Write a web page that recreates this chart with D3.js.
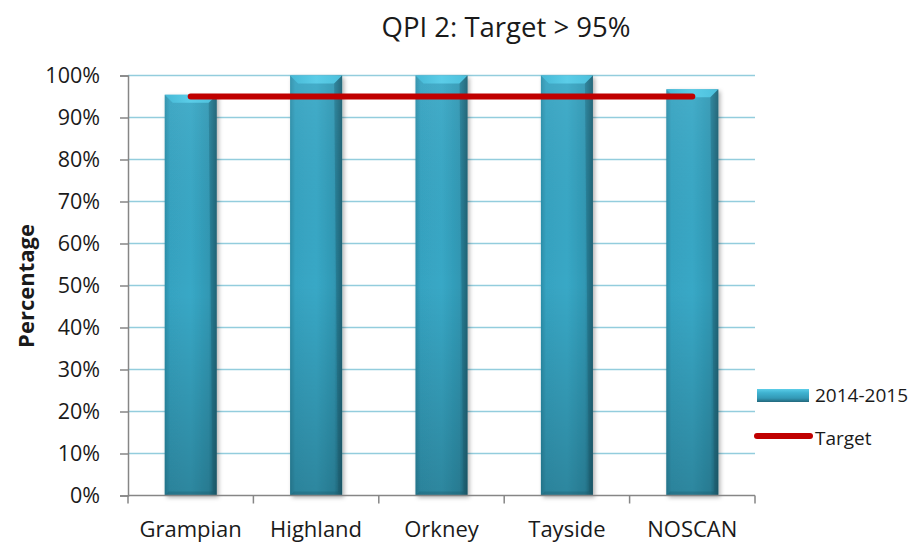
<!DOCTYPE html>
<html>
<head>
<meta charset="utf-8">
<script src="https://cdn.jsdelivr.net/npm/d3@7"></script>
<style>
  html, body { margin: 0; padding: 0; background: #ffffff; }
  svg { display: block; font-family: "Open Sans", "Liberation Sans", sans-serif; }
</style>
</head>
<body>
<svg id="chart" width="913" height="542"></svg>
<script>
// QPI 2 results by region, 2014-2015
const categories = ["Grampian", "Highland", "Orkney", "Tayside", "NOSCAN"];
const values2014 = [95.4, 100, 100, 100, 96.7];
const targetValues = [95, 95, 95, 95, 95];
const yTicks = [0, 10, 20, 30, 40, 50, 60, 70, 80, 90, 100];
const titleText = "QPI 2: Target > 95%";
const seriesNames = ["2014-2015", "Target"];
const yTitle = "Percentage";

const svg = d3.select("#chart");
const plotLeft = 128, plotRight = 755, plotTop = 75.5, plotBottom = 495.5;

const x = d3.scaleBand().domain(categories).range([plotLeft, plotRight])
  .paddingInner(0.585).paddingOuter(0.2925);
const y = d3.scaleLinear().domain([0, 100]).range([plotBottom, plotTop]);

const defs = svg.append("defs");
const g1 = defs.append("linearGradient").attr("id", "barH").attr("x1", 0).attr("x2", 1).attr("y1", 0).attr("y2", 0);
[[0, "#2b8ea9"], [0.1, "#36a3c1"], [0.5, "#38a8c6"], [0.85, "#3098b4"], [1, "#22687c"]]
  .forEach(([o, c]) => g1.append("stop").attr("offset", o).attr("stop-color", c));
const g2 = defs.append("linearGradient").attr("id", "barV").attr("x1", 0).attr("x2", 0).attr("y1", 0).attr("y2", 1);
[[0, "#ffffff", 0.06], [0.5, "#000000", 0.0], [1, "#000000", 0.2]]
  .forEach(([o, c, a]) => g2.append("stop").attr("offset", o).attr("stop-color", c).attr("stop-opacity", a));
const g3 = defs.append("linearGradient").attr("id", "bevel").attr("x1", 0).attr("x2", 1).attr("y1", 0).attr("y2", 0);
[[0, "#46b9d6"], [0.5, "#5bcde8"], [1, "#4cc0dc"]]
  .forEach(([o, c]) => g3.append("stop").attr("offset", o).attr("stop-color", c));
const g4 = defs.append("linearGradient").attr("id", "swatch").attr("x1", 0).attr("x2", 0).attr("y1", 0).attr("y2", 1);
[[0, "#5bcde8"], [0.3, "#3fb2d0"], [0.7, "#3399b6"], [1, "#22687c"]]
  .forEach(([o, c]) => g4.append("stop").attr("offset", o).attr("stop-color", c));
const sh = defs.append("filter").attr("id", "shadow").attr("x", "-20%").attr("y", "-10%").attr("width", "150%").attr("height", "130%");
sh.append("feDropShadow").attr("dx", 2).attr("dy", 2).attr("stdDeviation", 2)
  .attr("flood-color", "#000").attr("flood-opacity", 0.3);

// gridlines
svg.append("g").selectAll("line").data(yTicks.filter(d => d > 0)).join("line")
  .attr("x1", plotLeft).attr("x2", plotRight)
  .attr("y1", d => y(d)).attr("y2", d => y(d))
  .attr("stroke", "#93cddd").attr("stroke-width", 1.5);

// y axis
const yAxis = d3.axisLeft(y).tickValues(yTicks).tickFormat(d => d + "%").tickSize(8).tickPadding(20);
const ya = svg.append("g").attr("transform", `translate(${plotLeft},0)`).call(yAxis);
ya.select(".domain").attr("stroke", "#868686").attr("stroke-width", 1.5);
ya.selectAll(".tick line").attr("stroke", "#868686").attr("stroke-width", 1.5);
ya.selectAll(".tick text").attr("font-size", 21.5).attr("fill", "#1a1a1a")
  .attr("font-family", "'Open Sans', sans-serif");

// bars
const bars = svg.append("g").selectAll("g").data(categories).join("g");
bars.each(function (c, i) {
  const gx = d3.select(this);
  const bx = x(c), bw = x.bandwidth(), by = y(values2014[i]), bh = y(0) - y(values2014[i]);
  const b = 8;
  gx.append("rect").attr("x", bx).attr("y", by).attr("width", bw).attr("height", bh)
    .attr("fill", "url(#barH)").attr("filter", "url(#shadow)");
  gx.append("rect").attr("x", bx).attr("y", by).attr("width", bw).attr("height", bh)
    .attr("fill", "url(#barV)");
  gx.append("path")
    .attr("d", `M${bx},${by} L${bx + bw},${by} L${bx + bw - b},${by + b} L${bx + b},${by + b} Z`)
    .attr("fill", "url(#bevel)");
  gx.append("path")
    .attr("d", `M${bx + bw},${by} L${bx + bw},${by + bh} L${bx + bw - 4},${by + bh - 4} L${bx + bw - b},${by + b} Z`)
    .attr("fill", "#1b5566").attr("opacity", 0.3);
  gx.append("path")
    .attr("d", `M${bx},${by + bh} L${bx + bw},${by + bh} L${bx + bw - 4},${by + bh - 4} L${bx + 4},${by + bh - 4} Z`)
    .attr("fill", "#1b5566").attr("opacity", 0.3);
});

// x axis
const xa = svg.append("g").attr("transform", `translate(0,${plotBottom})`);
xa.append("line").attr("x1", plotLeft).attr("x2", plotRight).attr("stroke", "#868686").attr("stroke-width", 1.5);
const bounds = d3.range(categories.length + 1).map(i => plotLeft + i * x.step());
xa.selectAll("line.tk").data(bounds).join("line").attr("class", "tk")
  .attr("x1", d => d).attr("x2", d => d).attr("y1", 0).attr("y2", 8)
  .attr("stroke", "#868686").attr("stroke-width", 1.5);
xa.selectAll("text").data(categories).join("text")
  .attr("x", d => x(d) + x.bandwidth() / 2).attr("y", 41.5)
  .attr("text-anchor", "middle").attr("font-size", 22).attr("fill", "#1a1a1a")
  .text(d => d);

// target line
const line = d3.line().x((d, i) => x(categories[i]) + x.bandwidth() / 2).y(d => y(d));
svg.append("path").datum(targetValues).attr("d", line)
  .attr("fill", "none").attr("stroke", "#c00000").attr("stroke-width", 6).attr("stroke-linecap", "round");

// title
svg.append("text").attr("x", 506).attr("y", 37).attr("text-anchor", "middle")
  .attr("font-size", 27.5).attr("fill", "#1a1a1a").text(titleText);

// y title
svg.append("text").attr("transform", "translate(34,286) rotate(-90)")
  .attr("text-anchor", "middle").attr("font-size", 22).attr("font-weight", "bold")
  .attr("fill", "#1a1a1a").text(yTitle);

// legend
const lg = svg.append("g");
lg.append("rect").attr("x", 757).attr("y", 389).attr("width", 52).attr("height", 13)
  .attr("fill", "url(#swatch)");
lg.append("text").attr("x", 815).attr("y", 402).attr("font-size", 19).attr("fill", "#1a1a1a").text(seriesNames[0]);
lg.append("line").attr("x1", 757).attr("x2", 810).attr("y1", 436).attr("y2", 436)
  .attr("stroke", "#c00000").attr("stroke-width", 6).attr("stroke-linecap", "round");
lg.append("text").attr("x", 815).attr("y", 445).attr("font-size", 19).attr("fill", "#1a1a1a").text(seriesNames[1]);
</script>
</body>
</html>
